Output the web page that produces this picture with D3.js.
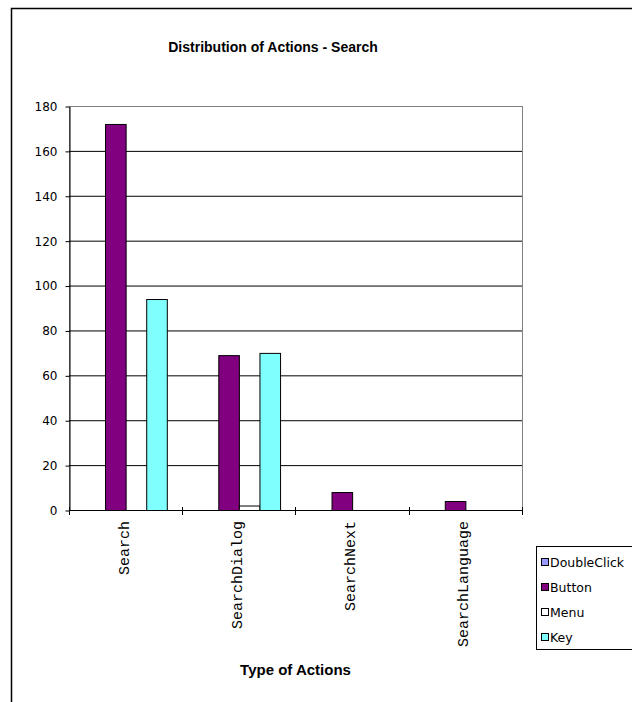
<!DOCTYPE html>
<html>
<head>
<meta charset="utf-8">
<script src="https://cdn.jsdelivr.net/npm/d3@7"></script>
<style>
  html, body { margin: 0; padding: 0; background: #fff; }
  svg { display: block; }
</style>
</head>
<body>
<svg id="chart" width="632" height="702"></svg>
<script>
// Action counts per category, one array per input method
const categories = ["Search", "SearchDialog", "SearchNext", "SearchLanguage"];
const seriesNames = ["DoubleClick", "Button", "Menu", "Key"];
const doubleClickValues = [0, 0, 0, 0];
const buttonValues = [172, 69, 8, 4];
const menuValues = [0, 2, 0, 0];
const keyValues = [94, 70, 0, 0];
const yTicks = [0, 20, 40, 60, 80, 100, 120, 140, 160, 180];
const seriesColors = ["#9999ff", "#800080", "#ffffff", "#80ffff"];

const seriesValues = [doubleClickValues, buttonValues, menuValues, keyValues];

const svg = d3.select("#chart");

// Chart frame
svg.append("path")
  .attr("d", "M11.5,702 V8.5 H632")
  .attr("fill", "none")
  .attr("stroke", "#000")
  .attr("stroke-width", 1.5);

const plot = { left: 69, right: 522, top: 106, bottom: 510 };

const x = d3.scaleBand()
  .domain(categories)
  .range([plot.left, plot.right])
  .paddingInner(0.2727)
  .paddingOuter(0.2727 / 2);

const xs = d3.scaleBand()
  .domain(seriesNames)
  .range([0, x.bandwidth()])
  .padding(0);

const y = d3.scaleLinear()
  .domain([0, 180])
  .range([plot.bottom, plot.top]);

// Plot area border
svg.append("rect")
  .attr("x", plot.left + 0.5)
  .attr("y", y(180) + 0.5)
  .attr("width", plot.right - plot.left)
  .attr("height", y(0) - y(180))
  .attr("fill", "#fff")
  .attr("stroke", "#808080")
  .attr("stroke-width", 1);

// Horizontal gridlines
const grid = svg.append("g")
  .attr("transform", `translate(${plot.left},0)`)
  .call(d3.axisLeft(y)
    .tickValues(yTicks.filter(v => v > 0 && v < 180))
    .tickSize(-(plot.right - plot.left))
    .tickFormat(""));
grid.select(".domain").remove();
grid.selectAll(".tick line").attr("stroke", "#000").attr("stroke-width", 1);

// Bars
const groups = svg.append("g").selectAll("g")
  .data(categories)
  .join("g")
  .attr("transform", d => `translate(${x(d)},0)`);

groups.selectAll("rect")
  .data((c, i) => seriesNames.map((s, k) => ({ s, k, v: seriesValues[k][i] })))
  .join("rect")
  .filter(d => d.v > 0)
  .attr("x", d => xs(d.s) + 0.5)
  .attr("y", d => y(d.v) + 0.5)
  .attr("width", xs.bandwidth())
  .attr("height", d => y(0) - y(d.v))
  .attr("fill", d => seriesColors[d.k])
  .attr("stroke", "#000")
  .attr("stroke-width", 1);

// Y axis
const yAxis = svg.append("g")
  .attr("transform", `translate(${plot.left + 0.5},0.5)`)
  .call(d3.axisLeft(y)
    .tickValues(yTicks)
    .tickSize(4)
    .tickPadding(8)
    .tickSizeOuter(0));
yAxis.select(".domain").attr("stroke", "#000");
yAxis.selectAll(".tick line").attr("stroke", "#000");
yAxis.selectAll(".tick text")
  .attr("font-family", "'DejaVu Sans', sans-serif")
  .attr("font-size", 12)
  .attr("fill", "#000");

// X axis baseline and tick marks between categories
svg.append("line")
  .attr("x1", plot.left)
  .attr("x2", plot.right + 1)
  .attr("y1", y(0) + 0.5)
  .attr("y2", y(0) + 0.5)
  .attr("stroke", "#000");

const halfGap = (x.step() - x.bandwidth()) / 2;
const boundaries = categories.map(c => x(c) - halfGap).concat([plot.right]);
svg.append("g").selectAll("line")
  .data(boundaries)
  .join("line")
  .attr("x1", d => Math.round(d) + 0.5)
  .attr("x2", d => Math.round(d) + 0.5)
  .attr("y1", y(0) - 3)
  .attr("y2", y(0) + 5)
  .attr("stroke", "#000");

// Rotated category labels
svg.append("g").selectAll("text")
  .data(categories)
  .join("text")
  .attr("transform", d => `translate(${x(d) + x.bandwidth() / 2 + 3},${y(0) + 11}) rotate(-90)`)
  .attr("text-anchor", "end")
  .attr("font-family", "'Liberation Mono', 'Courier New', monospace")
  .attr("font-size", 15)
  .attr("fill", "#000")
  .text(d => d);

// Title
svg.append("text")
  .attr("x", 273)
  .attr("y", 52)
  .attr("text-anchor", "middle")
  .attr("font-family", "'Liberation Sans', Arial, sans-serif")
  .attr("font-weight", "bold")
  .attr("font-size", 14)
  .attr("fill", "#000")
  .text("Distribution of Actions - Search");

// X axis title
svg.append("text")
  .attr("x", (plot.left + plot.right) / 2)
  .attr("y", 675)
  .attr("text-anchor", "middle")
  .attr("font-family", "'Liberation Sans', Arial, sans-serif")
  .attr("font-weight", "bold")
  .attr("font-size", 15)
  .attr("fill", "#000")
  .text("Type of Actions");

// Legend
const legend = svg.append("g").attr("transform", "translate(536,546)");
legend.append("rect")
  .attr("x", 0.5)
  .attr("y", 0.5)
  .attr("width", 120)
  .attr("height", 103)
  .attr("fill", "#fff")
  .attr("stroke", "#000");

const items = legend.selectAll("g.item")
  .data(seriesNames)
  .join("g")
  .attr("class", "item")
  .attr("transform", (d, i) => `translate(0,${16 + i * 25})`);

items.append("rect")
  .attr("x", 5.5)
  .attr("y", -3.5)
  .attr("width", 7)
  .attr("height", 7)
  .attr("fill", (d, i) => seriesColors[i])
  .attr("stroke", "#000");

items.append("text")
  .attr("x", 14)
  .attr("y", 4.5)
  .attr("font-family", "'DejaVu Sans', sans-serif")
  .attr("font-size", 12.5)
  .attr("fill", "#000")
  .text(d => d);
</script>
</body>
</html>
